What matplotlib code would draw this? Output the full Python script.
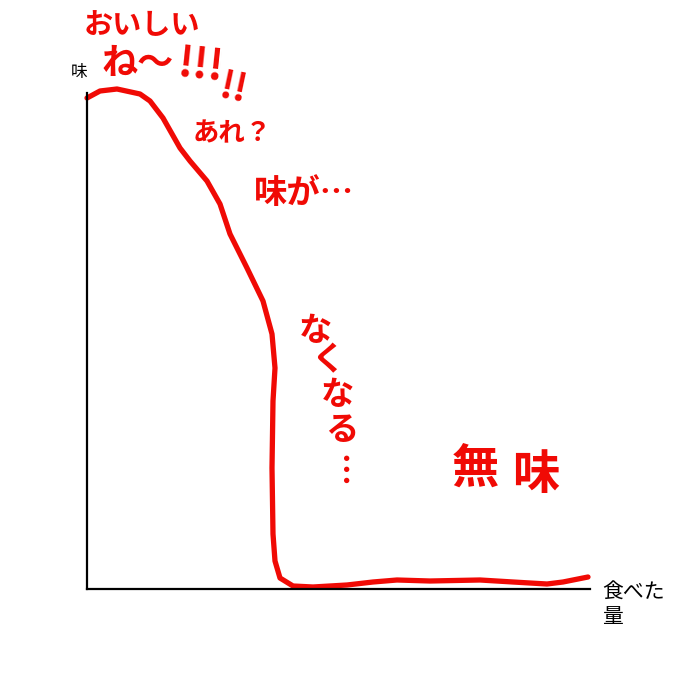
import numpy as np
import matplotlib
matplotlib.use("Agg")
import matplotlib.pyplot as plt

plt.rcParams['font.family'] = ['Noto Sans CJK JP', 'DejaVu Sans']

# hand drawn curve (x: amount eaten, y: taste)
eaten = [0, 13, 30, 53, 63, 76, 93, 103, 120, 133, 143, 160, 176, 185,
         188, 186, 185, 186, 188, 193, 206, 226, 260, 286, 310, 343,
         393, 426, 460, 476, 501]
taste = [491, 498, 500, 495, 488, 471, 441, 428, 408, 385, 355, 321, 288,
         255, 221, 188, 121, 55, 28, 11, 3, 2, 4, 7, 9, 8, 9, 7, 5, 7, 12]

notes = ["おいしい", "ね〜", "!!!", "!!", "あれ？", "味が…",
         "な", "く", "な", "る", "︙", "無", "味"]
x_label = "食べた\n量"
y_label = "味"

red = '#f00a05'

fig = plt.figure(figsize=(6.8, 6.8), dpi=100)
ax = fig.add_axes([87 / 680, 1 - 589 / 680, 503 / 680, 496 / 680])
ax.plot(eaten, taste, color=red, lw=3.8, solid_capstyle='round',
        solid_joinstyle='round', clip_on=False)
ax.set_xlim(0, 503)
ax.set_ylim(0, 496)
for s in ['top', 'right']:
    ax.spines[s].set_visible(False)
for s in ['left', 'bottom']:
    ax.spines[s].set_linewidth(1.6)
    ax.spines[s].set_color('black')
ax.set_xticks([])
ax.set_yticks([])


def px(x, y):
    return x / 680, 1 - y / 680


def note(x, y, s, size, **kw):
    fig.text(*px(x, y), s, fontsize=size, color=red, fontweight='bold',
             ha='center', va='center', **kw)


fig.text(*px(79, 72), y_label, fontsize=12, ha='center', va='center')
fig.text(*px(602, 605), x_label, fontsize=15, ha='left', va='center',
         linespacing=1.15)

note(142, 25, notes[0], 21)
note(138, 63, notes[1], 26)
note(200, 66, notes[2], 30, rotation=-6)
note(234, 88, notes[3], 27, rotation=-12)
note(232, 134, notes[4], 19)
note(304, 193, notes[5], 24)
note(316, 331, notes[6], 24)
note(328, 361, notes[7], 24)
note(338, 395, notes[8], 24)
note(342, 430, notes[9], 24)
note(346, 472, notes[10], 24)
note(475, 469, notes[11], 34)
note(536, 475, notes[12], 34)

fig.savefig('out.png', dpi=100)
